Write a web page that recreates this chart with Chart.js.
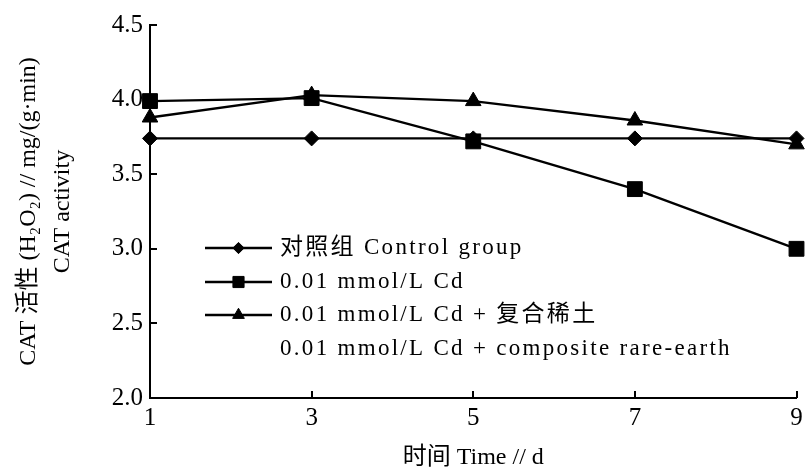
<!DOCTYPE html>
<html>
<head>
<meta charset="utf-8">
<script src="https://cdn.jsdelivr.net/npm/chart.js@4/dist/chart.umd.min.js"></script>
<style>
  html, body { margin: 0; padding: 0; background: #fff; }
  #wrap { width: 808px; height: 473px; }
</style>
</head>
<body>
<div id="wrap"><canvas id="c" width="808" height="473"></canvas></div>
<script>
// ---- data ----
const xValues = [1, 3, 5, 7, 9];
const xTickLabels = ['1', '3', '5', '7', '9'];
const yTickValues = [2.0, 2.5, 3.0, 3.5, 4.0, 4.5];
const yTickLabels = ['2.0', '2.5', '3.0', '3.5', '4.0', '4.5'];
const controlValues = [3.74, 3.74, 3.74, 3.74, 3.74];
const cdValues = [3.99, 4.01, 3.72, 3.40, 3.00];
const cdRareEarthValues = [3.88, 4.03, 3.99, 3.86, 3.70];
const seriesNames = [
  ['对照组 Control group'],
  ['0.01 mmol/L Cd'],
  ['0.01 mmol/L Cd + 复合稀土', '0.01 mmol/L Cd + composite rare-earth']
];
const xTitle = '时间 Time // d';
const yTitle = ['CAT 活性 (H₂O₂) // mg/(g·min)', 'CAT activity'];

const FONT = '"Liberation Serif", "Noto Sans CJK SC", serif';
const pts = (vals) => xValues.map((x, i) => ({ x: x, y: vals[i] }));

const styles = [
  { pointStyle: 'rectRot', radius: 7.5 },
  { pointStyle: 'rect', radius: 10.5 },
  { pointStyle: 'triangle', radius: 9 }
];
const seriesValues = [controlValues, cdValues, cdRareEarthValues];

const datasets = seriesValues.map((vals, i) => ({
  label: seriesNames[i].join(' '),
  data: pts(vals),
  borderColor: '#000',
  backgroundColor: '#000',
  borderWidth: 2.4,
  pointStyle: styles[i].pointStyle,
  pointRadius: styles[i].radius,
  pointHoverRadius: styles[i].radius,
  pointBackgroundColor: '#000',
  pointBorderColor: '#000',
  pointBorderWidth: 1,
  tension: 0,
  clip: false
}));

// inward tick marks
const inwardTicks = {
  id: 'inwardTicks',
  afterDraw(chart) {
    const ctx = chart.ctx;
    const xs = chart.scales.x, ys = chart.scales.y;
    ctx.save();
    ctx.strokeStyle = '#000';
    ctx.lineWidth = 2;
    ctx.beginPath();
    yTickValues.forEach(v => {
      const py = Math.round(ys.getPixelForValue(v));
      ctx.moveTo(xs.left, py);
      ctx.lineTo(xs.left + 7, py);
    });
    xValues.forEach(v => {
      const px = Math.round(xs.getPixelForValue(v));
      ctx.moveTo(px, ys.bottom);
      ctx.lineTo(px, ys.bottom - 7);
    });
    ctx.stroke();
    ctx.restore();
  }
};

// legend drawn inside plot area
const innerLegend = {
  id: 'innerLegend',
  afterDraw(chart) {
    const ctx = chart.ctx;
    const x0 = 205, x1 = 272, tx = 280;
    const rowY = [248, 282, 315, 349];
    ctx.save();
    ctx.fillStyle = '#000';
    ctx.strokeStyle = '#000';
    ctx.font = '23px ' + FONT;
    ctx.textBaseline = 'middle';
    ctx.textAlign = 'left';
    try { ctx.letterSpacing = '2.3px'; } catch (e) {}
    let r = 0;
    seriesNames.forEach((lines, i) => {
      const y = rowY[r];
      ctx.lineWidth = 2.4;
      ctx.beginPath();
      ctx.moveTo(x0, y);
      ctx.lineTo(x1, y);
      ctx.stroke();
      const rad = styles[i].radius * 0.75;
      if (Chart.helpers && Chart.helpers.drawPoint) {
        ctx.lineWidth = 1;
        Chart.helpers.drawPoint(ctx, { pointStyle: styles[i].pointStyle, radius: rad, rotation: 0, borderWidth: 1 }, (x0 + x1) / 2, y);
      }
      lines.forEach((t) => {
        ctx.fillText(t, tx, rowY[r]);
        r++;
      });
    });
    ctx.restore();
  }
};

new Chart(document.getElementById('c'), {
  type: 'line',
  data: { datasets: datasets },
  plugins: [inwardTicks, innerLegend],
  options: {
    responsive: false,
    animation: false,
    devicePixelRatio: 1,
    layout: { padding: { top: 25, right: 11, left: 0, bottom: 0 } },
    plugins: {
      legend: { display: false },
      tooltip: { enabled: false }
    },
    scales: {
      x: {
        type: 'linear',
        min: 1,
        max: 9,
        afterBuildTicks(scale) { scale.ticks = xValues.map(v => ({ value: v })); },
        afterFit(scale) { scale.height = 75; },
        grid: { display: true, drawOnChartArea: false, drawTicks: false },
        border: { display: true, color: '#000', width: 2 },
        ticks: {
          color: '#000',
          padding: 5,
          font: { family: FONT, size: 25 },
          callback: (v) => xTickLabels[xValues.indexOf(v)]
        },
        title: {
          display: true,
          text: xTitle,
          color: '#000',
          font: { family: FONT, size: 24, lineHeight: 1.2 },
          padding: { top: 0, bottom: 1 }
        }
      },
      y: {
        type: 'linear',
        min: 2,
        max: 4.5,
        afterBuildTicks(scale) { scale.ticks = yTickValues.map(v => ({ value: v })); },
        afterFit(scale) { scale.width = 150; },
        grid: { display: true, drawOnChartArea: false, drawTicks: false },
        border: { display: true, color: '#000', width: 2 },
        ticks: {
          color: '#000',
          padding: 7,
          font: { family: FONT, size: 25 },
          callback: (v) => yTickLabels[yTickValues.indexOf(v)]
        },
        title: {
          display: true,
          text: yTitle,
          color: '#000',
          font: { family: FONT, size: 24, lineHeight: 1.4 },
          padding: { top: 12, bottom: 0 }
        }
      }
    }
  }
});
</script>
</body>
</html>
